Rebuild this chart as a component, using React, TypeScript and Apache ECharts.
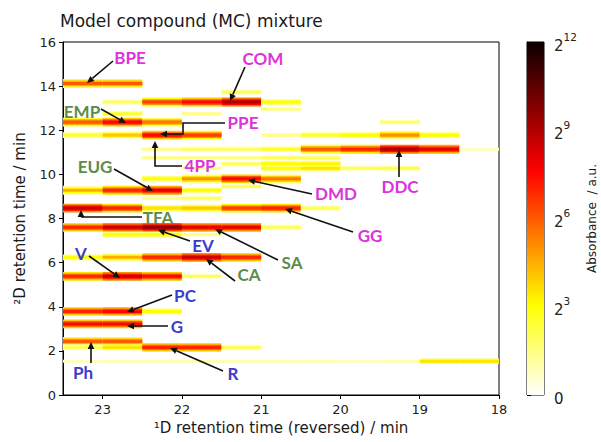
import React, { useEffect, useRef } from "react";
import * as echarts from "echarts";

// 1D modulation columns (start of each 0.5 min column, reversed axis)
const columnStarts = [23.5, 23.0, 22.5, 22.0, 21.5, 21.0, 20.5, 20.0, 19.5, 19.0, 18.5];
const columnWidth = 0.5;

// 2D retention time of each band (min)
const bandT2 = [
  14.12, 13.73, 13.28, 12.95, 12.75, 12.37, 11.78, 11.14, 10.75, 10.48, 10.28,
  9.8, 9.45, 9.28, 8.92, 8.47, 7.6, 7.27, 6.24, 5.38, 3.79, 3.22, 2.43, 2.16, 1.53,
];

// absorbance (log2 units) per column for each band; 0 = nothing
const bandLevels = [
  [6, 6, 0, 0, 0, 0, 0, 0, 0, 0, 0],
  [0, 0, 0, 0, 2, 0, 0, 0, 0, 0, 0],
  [0, 2, 6.5, 7.5, 9, 3, 0, 0, 0, 0, 0],
  [0, 0, 0, 0, 0, 1.5, 0, 0, 0, 0, 0],
  [0, 2.5, 0, 1.5, 0, 0, 0, 0, 0, 0, 0],
  [6, 7.5, 5.5, 0, 0, 0, 0, 0, 1.8, 0, 0],
  [2.5, 4, 7.5, 6.5, 0, 1.5, 2.5, 3, 5, 3, 0],
  [0, 0, 1.5, 2, 2, 2.5, 6, 7, 9, 8, 0.8],
  [0, 0, 1.5, 1.5, 1.5, 2, 2, 0, 0, 0, 0],
  [0, 0, 0, 0, 2, 3, 3.2, 0, 0, 0, 0],
  [0, 0, 0, 1.5, 0, 3, 3.5, 2, 2.2, 0, 0],
  [0, 0, 3, 5, 7.5, 5.5, 0, 0, 0, 0, 0],
  [0, 0, 0, 0, 2, 0, 0, 0, 0, 0, 0],
  [4.5, 7, 8, 3, 0, 0, 0, 0, 0, 0, 0],
  [0, 0, 1.5, 2, 0, 0, 0, 0, 0, 0, 0],
  [8.5, 7, 3.5, 4, 6.5, 7, 2, 0, 0, 0, 0],
  [7, 8.5, 9.5, 8, 8, 2, 0, 0, 0, 0, 0],
  [0, 3, 3, 1.5, 0, 0, 0, 0, 0, 0, 0],
  [3, 4.5, 7, 8.5, 7, 0, 0, 0, 0, 0, 0],
  [7, 8.5, 7.5, 2, 0, 0, 0, 0, 0, 0, 0],
  [7, 7.5, 3, 0, 0, 0, 0, 0, 0, 0, 0],
  [7.5, 7.5, 0, 0, 0, 0, 0, 0, 0, 0, 0],
  [6, 6, 0, 0, 0, 0, 0, 0, 0, 0, 0],
  [2, 3.5, 7, 7, 2, 0, 0, 0, 0, 0, 0],
  [0.8, 1, 1, 1, 1, 1, 1, 0.8, 1, 3.5, 3.5],
];

const xTickValues = [23, 22, 21, 20, 19, 18];
const colorbarTicks = [0, 3, 6, 9, 12];
const levelMax = 12;

// annotations (pixel positions on the figure)
const MAG = "#dc32dc";
const GRN = "#5e8c4a";
const BLU = "#3c3ccc";
const labelNames = ["BPE", "COM", "EMP", "PPE", "4PP", "EUG", "DMD", "DDC", "TFA", "EV", "SA", "CA", "V", "PC", "G", "Ph", "R", "GG"];
const labelColors = [MAG, MAG, GRN, MAG, MAG, GRN, MAG, MAG, GRN, BLU, GRN, GRN, BLU, BLU, BLU, BLU, BLU, MAG];
const labelPos = [
  [130, 57], [263, 58], [82, 111], [243, 122], [200, 165], [95, 166], [336, 193], [400, 186], [158, 217],
  [203, 245], [292, 262], [249, 274], [81, 253], [185, 295], [177, 326], [83, 372], [233, 373], [370, 235],
];
const arrowPaths = [
  [[113, 61], [87, 83]],
  [[245, 67], [230, 101]],
  [[101, 109], [126, 123]],
  [[225, 123], [183, 123], [183, 134], [160, 134]],
  [[182, 166], [155, 166], [155, 141]],
  [[114, 169], [153, 191]],
  [[312, 194], [248, 180]],
  [[399, 177], [399, 150]],
  [[142, 217], [81, 217], [81, 210]],
  [[190, 241], [158, 230]],
  [[278, 260], [215, 229]],
  [[235, 281], [206, 259]],
  [[89, 256], [120, 278]],
  [[172, 295], [127, 312]],
  [[168, 326], [127, 326]],
  [[91, 363], [91, 342]],
  [[223, 371], [170, 348]],
  [[353, 232], [285, 209]],
];

// reversed matplotlib "hot" colormap
function hotR(t: number): string {
  const s = 1 - Math.min(1, Math.max(0, t));
  const r = Math.min(1, 0.0416 + (s / 0.365) * 0.9584);
  const g = Math.min(1, Math.max(0, (s - 0.365) / 0.381));
  const b = Math.min(1, Math.max(0, (s - 0.746) / 0.254));
  const h = (v: number) => Math.round(v * 255).toString(16).padStart(2, "0");
  return "#" + h(r) + h(g) + h(b);
}

function arrowGraphics(pts: number[][], color = "#111") {
  const [x1, y1] = pts[pts.length - 2];
  const [x2, y2] = pts[pts.length - 1];
  const ang = Math.atan2(y2 - y1, x2 - x1);
  const L = 7;
  const W = 3.3;
  const bx = x2 - L * Math.cos(ang);
  const by = y2 - L * Math.sin(ang);
  const head = [
    [x2, y2],
    [bx + W * Math.sin(ang), by - W * Math.cos(ang)],
    [bx - W * Math.sin(ang), by + W * Math.cos(ang)],
  ];
  const linePts = [...pts.slice(0, -1), [bx, by]];
  return [
    { type: "polyline", shape: { points: linePts }, style: { stroke: color, lineWidth: 1.6, fill: "none" }, z: 100, silent: true },
    { type: "polygon", shape: { points: head }, style: { fill: color }, z: 100, silent: true },
  ];
}

export default function App() {
  const ref = useRef<HTMLDivElement>(null);

  useEffect(() => {
    if (!ref.current) return;
    const chart = echarts.init(ref.current, null, { renderer: "svg" });

    const peaks: number[][] = [];
    bandT2.forEach((t2, i) => {
      bandLevels[i].forEach((lv, c) => {
        if (lv > 0) peaks.push([columnStarts[c], t2, lv]);
      });
    });

    const layer = (height: number, drop: number) => (params: any, api: any) => {
      const t1 = api.value(0);
      const t2 = api.value(1);
      const lv = api.value(2) - drop;
      if (lv <= 0.2) return { type: "group", children: [] };
      const p0 = api.coord([t1, t2 + height / 2]);
      const p1 = api.coord([t1 - columnWidth, t2 - height / 2]);
      return {
        type: "rect",
        shape: {
          x: Math.min(p0[0], p1[0]),
          y: Math.min(p0[1], p1[1]),
          width: Math.abs(p1[0] - p0[0]),
          height: Math.abs(p1[1] - p0[1]),
        },
        style: { fill: hotR(lv / levelMax) },
      };
    };

    const gradStops = [];
    for (let i = 0; i <= 48; i++) gradStops.push({ offset: i / 48, color: hotR(i / 48) });

    const font = "DejaVu Sans";
    const graphics: any[] = [];
    arrowPaths.forEach((p) => graphics.push(...arrowGraphics(p)));
    labelNames.forEach((name, i) => {
      graphics.push({
        type: "text",
        x: labelPos[i][0],
        y: labelPos[i][1],
        z: 101,
        silent: true,
        style: {
          text: name,
          fill: labelColors[i],
          fontSize: 17,
          fontWeight: "bold",
          fontFamily: "Lato",
          align: "center",
          verticalAlign: "middle",
          textAlign: "center",
          textVerticalAlign: "middle",
        },
      });
    });

    chart.setOption({
      animation: false,
      backgroundColor: "#ffffff",
      title: {
        text: "Model compound (MC) mixture",
        left: 55,
        top: 7,
        textStyle: { fontSize: 17, fontWeight: "normal", color: "#1a1a1a", fontFamily: font },
      },
      grid: [
        { left: 63, top: 42, width: 436, height: 353, show: true, borderColor: "#000", borderWidth: 1, backgroundColor: "transparent" },
        { left: 527, top: 42, width: 17, height: 353, show: true, borderColor: "#000", borderWidth: 1, backgroundColor: "transparent" },
      ],
      xAxis: [
        {
          type: "value",
          gridIndex: 0,
          min: 18,
          max: 23.5,
          interval: 1,
          inverse: true,
          axisLine: { show: true, lineStyle: { color: "#000", width: 1 } },
          axisTick: { show: true, length: 4, customValues: xTickValues, lineStyle: { color: "#000" } },
          axisLabel: { fontSize: 13, color: "#222", fontFamily: font, margin: 8, customValues: xTickValues },
          splitLine: { show: false },
          name: "¹D retention time (reversed) / min",
          nameLocation: "middle",
          nameGap: 25,
          nameTextStyle: { fontSize: 15, color: "#1a1a1a", fontFamily: font },
        },
        { type: "value", gridIndex: 1, min: 0, max: 1, show: false },
      ],
      yAxis: [
        {
          type: "value",
          gridIndex: 0,
          min: 0,
          max: 16,
          interval: 2,
          axisLine: { show: true, lineStyle: { color: "#000", width: 1 } },
          axisTick: { show: true, length: 4, lineStyle: { color: "#000" } },
          axisLabel: { fontSize: 13, color: "#222", fontFamily: font, margin: 7 },
          splitLine: { show: false },
          name: "²D retention time / min",
          nameLocation: "middle",
          nameGap: 36,
          nameRotate: 90,
          nameTextStyle: { fontSize: 15, color: "#1a1a1a", fontFamily: font },
        },
        {
          type: "value",
          gridIndex: 1,
          min: 0,
          max: levelMax,
          interval: 3,
          position: "right",
          axisLine: { show: true, lineStyle: { color: "#000", width: 1 } },
          axisTick: { show: true, length: 4, customValues: colorbarTicks, lineStyle: { color: "#000" } },
          axisLabel: {
            margin: 10,
            color: "#222",
            fontFamily: font,
            customValues: colorbarTicks,
            formatter: (v: number) => (v === 0 ? "{b|0}" : "{b|2}{s|" + v + "}"),
            rich: {
              b: { fontSize: 15, fontFamily: font, color: "#222", lineHeight: 22, verticalAlign: "bottom" },
              s: { fontSize: 10.5, fontFamily: font, color: "#222", lineHeight: 22, verticalAlign: "top" },
            },
          },
          splitLine: { show: false },
          name: "Absorbance  / a.u.",
          nameLocation: "middle",
          nameGap: 42,
          nameRotate: 90,
          nameTextStyle: { fontSize: 12, color: "#1a1a1a", fontFamily: font },
        },
      ],
      series: [
        { type: "custom", xAxisIndex: 0, yAxisIndex: 0, clip: true, data: peaks, renderItem: layer(0.4, 3.5), encode: { x: 0, y: 1 } },
        { type: "custom", xAxisIndex: 0, yAxisIndex: 0, clip: true, data: peaks, renderItem: layer(0.26, 1.5), encode: { x: 0, y: 1 } },
        { type: "custom", xAxisIndex: 0, yAxisIndex: 0, clip: true, data: peaks, renderItem: layer(0.14, 0), encode: { x: 0, y: 1 } },
        {
          type: "custom",
          xAxisIndex: 1,
          yAxisIndex: 1,
          data: [[0, 0]],
          renderItem: (params: any, api: any) => {
            const p0 = api.coord([0, levelMax]);
            const p1 = api.coord([1, 0]);
            return {
              type: "rect",
              shape: { x: p0[0], y: p0[1], width: p1[0] - p0[0], height: p1[1] - p0[1] },
              style: { fill: new echarts.graphic.LinearGradient(0, 1, 0, 0, gradStops) },
            };
          },
        },
      ],
      graphic: graphics,
    });

    return () => chart.dispose();
  }, []);

  return <div ref={ref} style={{ position: "fixed", left: 0, top: 0, width: 601, height: 442 }} />;
}
